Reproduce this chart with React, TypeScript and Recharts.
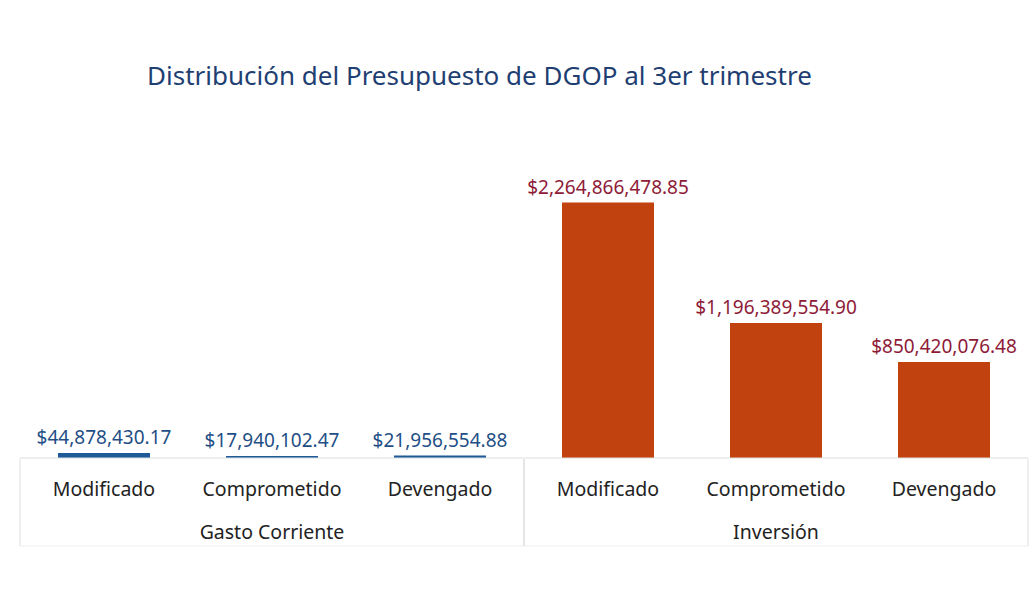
import React from 'react';
import { BarChart, Bar, XAxis, YAxis, Cell, LabelList } from 'recharts';

const categories = ['Modificado', 'Comprometido', 'Devengado', 'Modificado', 'Comprometido', 'Devengado'];
const groups = ['Gasto Corriente', 'Gasto Corriente', 'Gasto Corriente', 'Inversión', 'Inversión', 'Inversión'];
const values = [44878430.17, 17940102.47, 21956554.88, 2264866478.85, 1196389554.9, 850420076.48];
const valueLabels = [
  '$44,878,430.17',
  '$17,940,102.47',
  '$21,956,554.88',
  '$2,264,866,478.85',
  '$1,196,389,554.90',
  '$850,420,076.48',
];

const BLUE = '#1d5a97';
const ORANGE = '#c2420f';
const BLUE_TEXT = '#1f4f86';
const RED_TEXT = '#8e1b38';
const FONT = '"Noto Sans", sans-serif';
const BAND = 168;

const data = categories.map((c, i) => ({
  key: `${groups[i]}-${c}-${i}`,
  name: c,
  group: groups[i],
  value: values[i],
  label: valueLabels[i],
}));

const CategoryTick = (props: any) => {
  const { x, y, index } = props;
  return (
    <text x={x} y={y + 30} textAnchor="middle" fontFamily={FONT} fontSize={19.5} fill="#222">
      {categories[index]}
    </text>
  );
};

// second row: group names + the boxes around each group
const GroupTick = (props: any) => {
  const { x, y, index } = props;
  const isFirst = index === 0 || groups[index] !== groups[index - 1];
  const isLast = index === groups.length - 1 || groups[index] !== groups[index + 1];
  const isMid = index % 3 === 1;
  return (
    <g>
      {isFirst && (
        <line x1={x - BAND / 2} x2={x - BAND / 2} y1={y - 52} y2={y + 35} stroke="#dddddd" strokeWidth={1} />
      )}
      {isLast && (
        <line x1={x + BAND / 2} x2={x + BAND / 2} y1={y - 52} y2={y + 35} stroke="#dddddd" strokeWidth={1} />
      )}
      <line x1={x - BAND / 2} x2={x + BAND / 2} y1={y + 35} y2={y + 35} stroke="#eeeeee" strokeWidth={1} />
      {isMid && (
        <text x={x} y={y + 28} textAnchor="middle" fontFamily={FONT} fontSize={19.5} fill="#222">
          {groups[index]}
        </text>
      )}
    </g>
  );
};

const ValueLabel = (props: any) => {
  const { x, y, width, index } = props;
  return (
    <text
      x={x + width / 2}
      y={y - 9}
      textAnchor="middle"
      fontFamily={FONT}
      fontSize={19}
      fill={index < 3 ? BLUE_TEXT : RED_TEXT}
    >
      {valueLabels[index]}
    </text>
  );
};

export default function App() {
  return (
    <div style={{ position: 'absolute', left: 0, top: 0, width: 1032, height: 591, background: '#fff' }}>
      <div
        style={{
          position: 'absolute',
          left: 147,
          top: 57,
          fontFamily: FONT,
          fontSize: 26,
          color: '#1f3f73',
          whiteSpace: 'nowrap',
        }}
      >
        Distribución del Presupuesto de DGOP al 3er trimestre
      </div>
      <BarChart
        width={1032}
        height={591}
        data={data}
        margin={{ top: 176, right: 4, left: 20, bottom: 0 }}
        barSize={92}
      >
        <YAxis hide domain={[0, 2500000000]} />
        <XAxis
          dataKey="key"
          xAxisId={0}
          interval={0}
          height={45}
          axisLine={{ stroke: '#dddddd' }}
          tickLine={false}
          tick={<CategoryTick />}
        />
        <XAxis
          dataKey="key"
          xAxisId="group"
          interval={0}
          height={88}
          axisLine={false}
          tickLine={false}
          tick={<GroupTick />}
        />
        <Bar dataKey="value" isAnimationActive={false}>
          {data.map((d, i) => (
            <Cell key={d.key} fill={i < 3 ? BLUE : ORANGE} />
          ))}
          <LabelList dataKey="label" content={<ValueLabel />} />
        </Bar>
      </BarChart>
    </div>
  );
}
